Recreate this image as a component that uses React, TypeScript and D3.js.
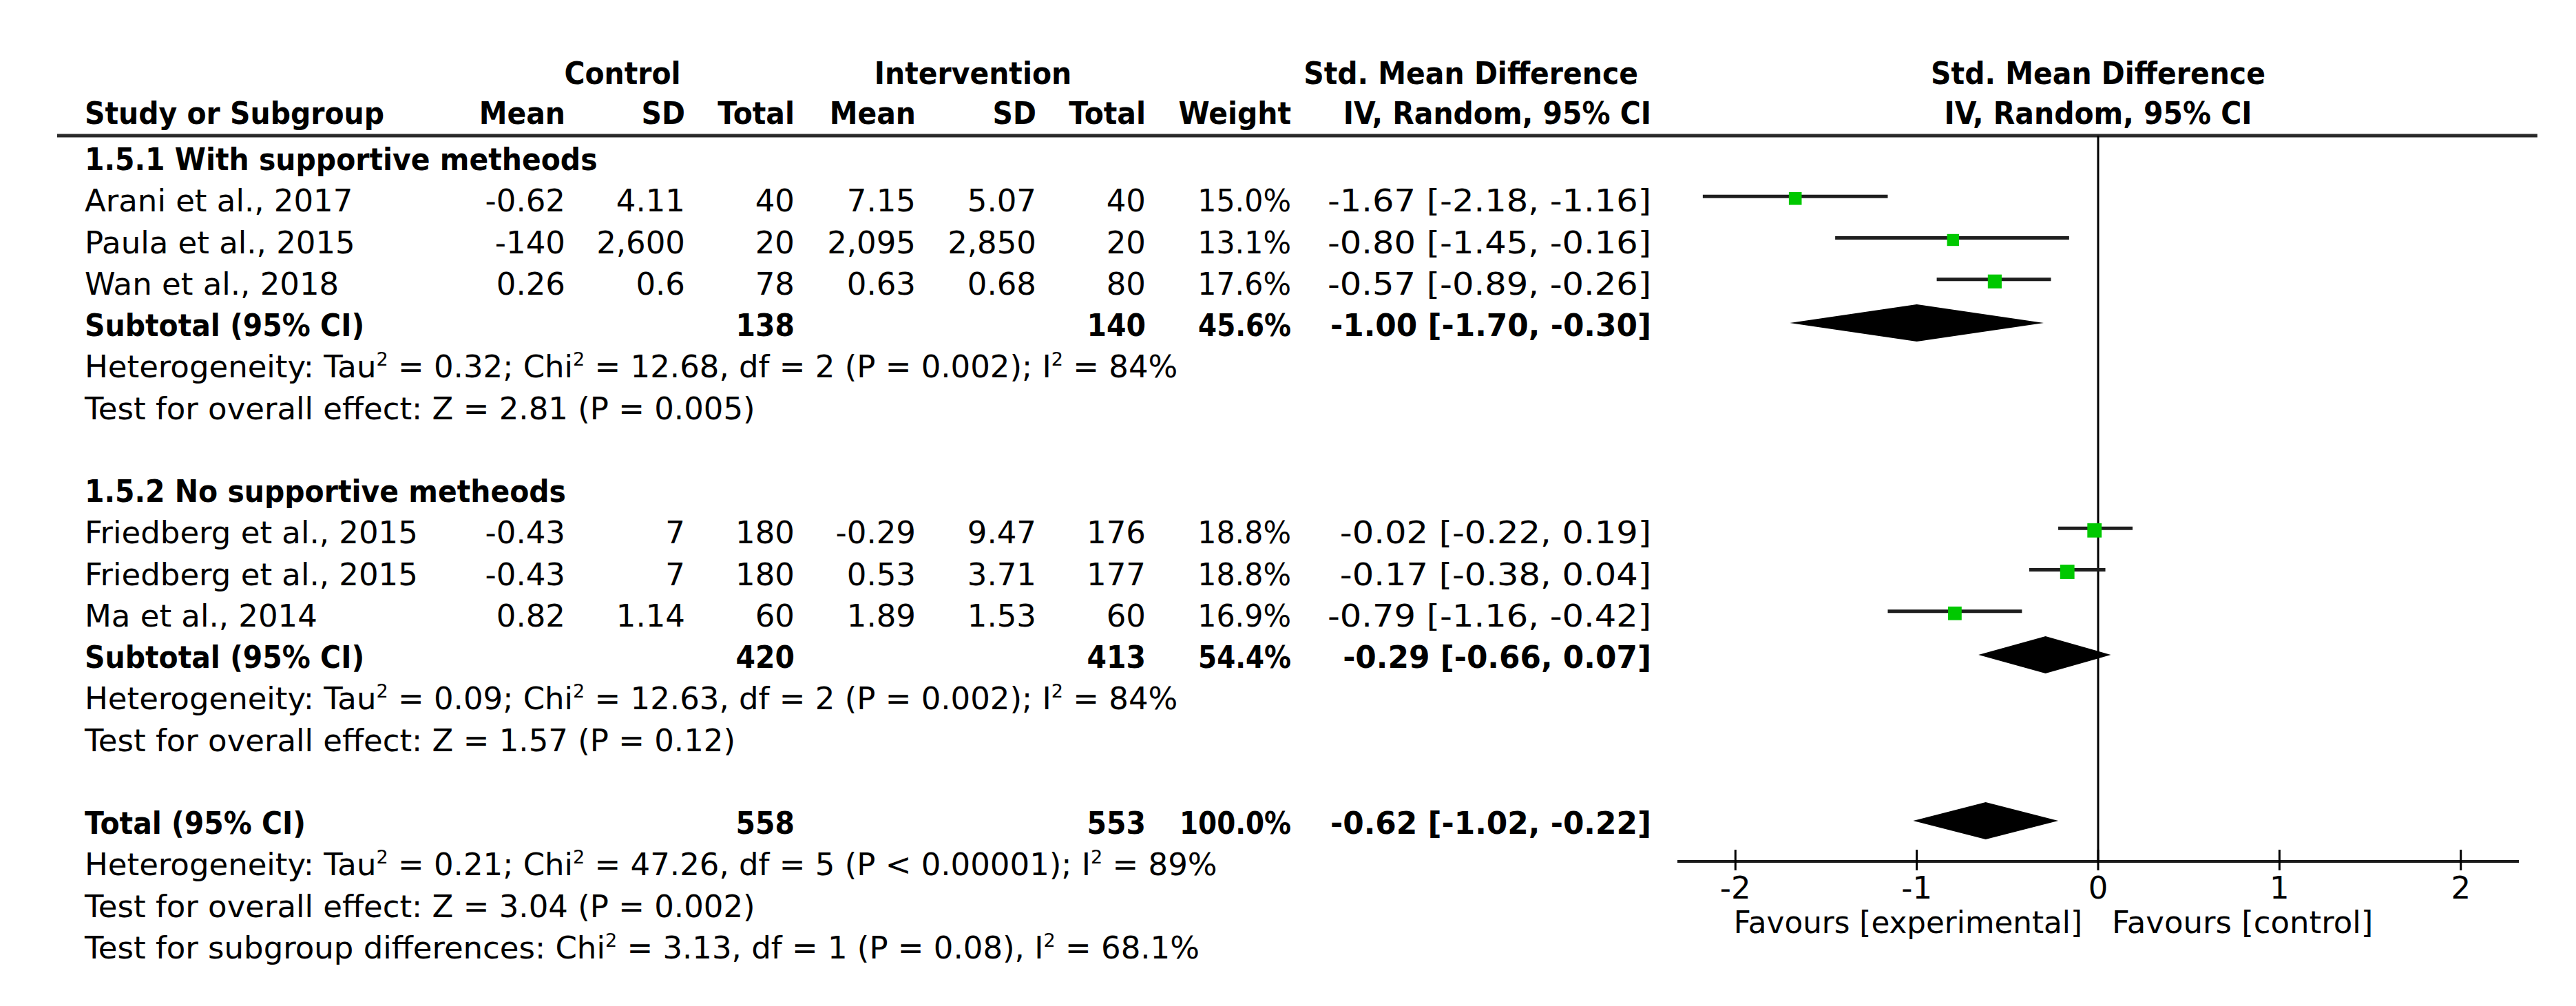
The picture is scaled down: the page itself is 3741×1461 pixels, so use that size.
import React from "react";
import * as d3 from "d3";

// ---------- data ----------
const studies = [
  "Arani et al., 2017",
  "Paula et al., 2015",
  "Wan et al., 2018",
  "Friedberg et al., 2015",
  "Friedberg et al., 2015",
  "Ma et al., 2014",
];
const studyGroup = [0, 0, 0, 1, 1, 1];
const ctrlMean = ["-0.62", "-140", "0.26", "-0.43", "-0.43", "0.82"];
const ctrlSD = ["4.11", "2,600", "0.6", "7", "7", "1.14"];
const ctrlN = [40, 20, 78, 180, 180, 60];
const intMean = ["7.15", "2,095", "0.63", "-0.29", "0.53", "1.89"];
const intSD = ["5.07", "2,850", "0.68", "9.47", "3.71", "1.53"];
const intN = [40, 20, 80, 176, 177, 60];
const weight = [15.0, 13.1, 17.6, 18.8, 18.8, 16.9];
const smd = [-1.67, -0.8, -0.57, -0.02, -0.17, -0.79];
const lower = [-2.18, -1.45, -0.89, -0.22, -0.38, -1.16];
const upper = [-1.16, -0.16, -0.26, 0.19, 0.04, -0.42];

const groupNames = ["1.5.1 With supportive metheods", "1.5.2 No supportive metheods"];
const subCtrlN = [138, 420];
const subIntN = [140, 413];
const subWeight = [45.6, 54.4];
const subSmd = [-1.0, -0.29];
const subLower = [-1.7, -0.66];
const subUpper = [-0.3, 0.07];
const subTau = ["0.32", "0.09"];
const subChi = ["12.68", "12.63"];
const subDf = ["2", "2"];
const subP = ["P = 0.002", "P = 0.002"];
const subI2 = ["84%", "84%"];
const subZ = ["2.81", "1.57"];
const subZP = ["P = 0.005", "P = 0.12"];

const totalCtrlN = 558;
const totalIntN = 553;
const totalWeight = 100.0;
const totalSmd = -0.62;
const totalLower = -1.02;
const totalUpper = -0.22;
const totalTau = "0.21";
const totalChi = "47.26";
const totalDf = "5";
const totalP = "P < 0.00001";
const totalI2 = "89%";
const totalZ = "3.04";
const totalZP = "P = 0.002";
const sgChi = "3.13";
const sgDf = "1";
const sgP = "P = 0.08";
const sgI2 = "68.1%";

const axisTicks = [-2, -1, 0, 1, 2];
const favLeft = "Favours [experimental]";
const favRight = "Favours [control]";

// ---------- helpers ----------
const FONT = "DejaVu Sans";
const f2 = (v: number) => (v < 0 ? "-" : "") + Math.abs(v).toFixed(2);
const f1 = (v: number) => v.toFixed(1) + "%";
const ci = (m: number, l: number, u: number) => `${f2(m)} [${f2(l)}, ${f2(u)}]`;

function T({ x, y, children, anchor = "start", bold = false, sx = 1, size = 45 }: any) {
  const s = bold ? 0.91 * sx : sx;
  return (
    <text
      transform={`translate(${x},${y}) scale(${s},1)`}
      textAnchor={anchor}
      fontWeight={bold ? "bold" : "normal"}
      fontSize={size}
      fontFamily={FONT}
      fill="#000"
      style={{ whiteSpace: "pre" }}
    >
      {children}
    </text>
  );
}

const SUP_DY = 17;
const Sup = () => (
  <tspan dy={-SUP_DY} fontSize={27}>
    2
  </tspan>
);
const Down = ({ children }: any) => <tspan dy={SUP_DY}>{children}</tspan>;

export default function App() {
  const W = 3741;
  const H = 1461;

  // layout
  const xName = 123;
  const colRight = [821, 995, 1154, 1330, 1505, 1664, 1875, 2398];
  const x = d3.scaleLinear().domain([-2.32, 2.32]).range([2436, 3658]);
  const row = d3.scaleLinear().domain([0, 19]).range([231, 231 + 19 * 60.25]);
  const base = (i: number) => row(i) + 16;
  const mark = (i: number) => row(i) - 3;
  const headerLineY = 197;
  const axisY = 1251;
  const boxSide = d3.scaleSqrt().domain([0, 100]).range([0, 48]);

  // build row indices
  const groupStart = [0, 8];
  const studyRow: number[] = [];
  const counters = [0, 0];
  studies.forEach((_, k) => {
    const g = studyGroup[k];
    counters[g] += 1;
    studyRow.push(groupStart[g] + counters[g]);
  });
  const subRow = groupStart.map((s, g) => s + 1 + counters[g]);
  const totalRow = 16;

  const diamond = (m: number, l: number, u: number, cy: number) => {
    const h = 27;
    return `M${x(l)},${cy} L${x(m)},${cy - h} L${x(u)},${cy} L${x(m)},${cy + h} Z`;
  };

  return (
    <svg
      width={W}
      height={H}
      style={{ position: "absolute", left: 0, top: 0, background: "#fff" }}
    >
      <rect x={0} y={0} width={W} height={H} fill="#fff" />

      {/* header row 1 */}
      <T x={904} y={122} anchor="middle" bold>Control</T>
      <T x={1413} y={122} anchor="middle" bold>Intervention</T>
      <T x={2379} y={122} anchor="end" bold>Std. Mean Difference</T>
      <T x={x(0)} y={122} anchor="middle" bold>Std. Mean Difference</T>

      {/* header row 2 */}
      <T x={xName} y={180} bold>Study or Subgroup</T>
      <T x={colRight[0]} y={180} anchor="end" bold>Mean</T>
      <T x={colRight[1]} y={180} anchor="end" bold>SD</T>
      <T x={colRight[2]} y={180} anchor="end" bold>Total</T>
      <T x={colRight[3]} y={180} anchor="end" bold>Mean</T>
      <T x={colRight[4]} y={180} anchor="end" bold>SD</T>
      <T x={colRight[5]} y={180} anchor="end" bold>Total</T>
      <T x={colRight[6]} y={180} anchor="end" bold>Weight</T>
      <T x={colRight[7]} y={180} anchor="end" bold>IV, Random, 95% CI</T>
      <T x={x(0)} y={180} anchor="middle" bold>IV, Random, 95% CI</T>

      <line x1={83} x2={3685} y1={headerLineY} y2={headerLineY} stroke="#2a2a2a" strokeWidth={5} />

      {/* zero line */}
      <line x1={x(0)} x2={x(0)} y1={headerLineY} y2={axisY} stroke="#000" strokeWidth={3} />

      {/* groups */}
      {groupNames.map((gname, g) => {
        const s = groupStart[g];
        const sr = subRow[g];
        return (
          <g key={"g" + g}>
            <T x={xName} y={base(s)} bold>{gname}</T>
            <T x={xName} y={base(sr)} bold>Subtotal (95% CI)</T>
            <T x={colRight[2]} y={base(sr)} anchor="end" bold>{subCtrlN[g]}</T>
            <T x={colRight[5]} y={base(sr)} anchor="end" bold>{subIntN[g]}</T>
            <T x={colRight[6]} y={base(sr)} anchor="end" bold sx={0.95}>{f1(subWeight[g])}</T>
            <T x={colRight[7]} y={base(sr)} anchor="end" bold sx={1.07}>
              {ci(subSmd[g], subLower[g], subUpper[g])}
            </T>
            <path d={diamond(subSmd[g], subLower[g], subUpper[g], mark(sr))} fill="#000" />
            <T x={xName} y={base(sr + 1)}>
              {"Heterogeneity: Tau"}
              <Sup />
              <Down>{` = ${subTau[g]}; Chi`}</Down>
              <Sup />
              <Down>{` = ${subChi[g]}, df = ${subDf[g]} (${subP[g]}); I`}</Down>
              <Sup />
              <Down>{` = ${subI2[g]}`}</Down>
            </T>
            <T x={xName} y={base(sr + 2)}>
              {`Test for overall effect: Z = ${subZ[g]} (${subZP[g]})`}
            </T>
          </g>
        );
      })}

      {/* studies */}
      {studies.map((name, k) => {
        const r = studyRow[k];
        const b = base(r);
        const cy = mark(r);
        const side = boxSide(weight[k]);
        return (
          <g key={"s" + k}>
            <T x={xName} y={b}>{name}</T>
            <T x={colRight[0]} y={b} anchor="end">{ctrlMean[k]}</T>
            <T x={colRight[1]} y={b} anchor="end">{ctrlSD[k]}</T>
            <T x={colRight[2]} y={b} anchor="end">{ctrlN[k]}</T>
            <T x={colRight[3]} y={b} anchor="end">{intMean[k]}</T>
            <T x={colRight[4]} y={b} anchor="end">{intSD[k]}</T>
            <T x={colRight[5]} y={b} anchor="end">{intN[k]}</T>
            <T x={colRight[6]} y={b} anchor="end" sx={0.95}>{f1(weight[k])}</T>
            <T x={colRight[7]} y={b} anchor="end" sx={1.1}>{ci(smd[k], lower[k], upper[k])}</T>
            <line x1={x(lower[k])} x2={x(upper[k])} y1={cy - 3} y2={cy - 3} stroke="#1e1e1e" strokeWidth={5} />
            <rect x={x(smd[k]) - side / 2} y={cy - side / 2} width={side} height={side} fill="#00c800" />
          </g>
        );
      })}

      {/* total */}
      <T x={xName} y={base(totalRow)} bold>Total (95% CI)</T>
      <T x={colRight[2]} y={base(totalRow)} anchor="end" bold>{totalCtrlN}</T>
      <T x={colRight[5]} y={base(totalRow)} anchor="end" bold>{totalIntN}</T>
      <T x={colRight[6]} y={base(totalRow)} anchor="end" bold sx={0.95}>{f1(totalWeight)}</T>
      <T x={colRight[7]} y={base(totalRow)} anchor="end" bold sx={1.07}>
        {ci(totalSmd, totalLower, totalUpper)}
      </T>
      <path d={diamond(totalSmd, totalLower, totalUpper, mark(totalRow))} fill="#000" />
      <T x={xName} y={base(totalRow + 1)}>
        {"Heterogeneity: Tau"}
        <Sup />
        <Down>{` = ${totalTau}; Chi`}</Down>
        <Sup />
        <Down>{` = ${totalChi}, df = ${totalDf} (${totalP}); I`}</Down>
        <Sup />
        <Down>{` = ${totalI2}`}</Down>
      </T>
      <T x={xName} y={base(totalRow + 2)}>
        {`Test for overall effect: Z = ${totalZ} (${totalZP})`}
      </T>
      <T x={xName} y={base(totalRow + 3)}>
        {"Test for subgroup differences: Chi"}
        <Sup />
        <Down>{` = ${sgChi}, df = ${sgDf} (${sgP}), I`}</Down>
        <Sup />
        <Down>{` = ${sgI2}`}</Down>
      </T>

      {/* axis */}
      <line x1={x.range()[0]} x2={x.range()[1]} y1={axisY} y2={axisY} stroke="#1a1a1a" strokeWidth={4} />
      {axisTicks.map((t) => (
        <g key={"t" + t}>
          <line x1={x(t)} x2={x(t)} y1={axisY - 17} y2={axisY + 13} stroke="#000" strokeWidth={3} />
          <T x={x(t)} y={1305} anchor="middle">{t < 0 ? "-" + Math.abs(t) : String(t)}</T>
        </g>
      ))}
      <T x={x(0) - 23} y={1355} anchor="end" sx={0.97}>{favLeft}</T>
      <T x={x(0) + 20} y={1355}>{favRight}</T>
    </svg>
  );
}
